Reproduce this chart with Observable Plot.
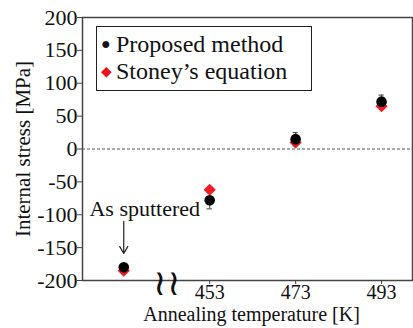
<!DOCTYPE html>
<html><head><meta charset="utf-8">
<script src="https://cdn.jsdelivr.net/npm/d3@7"></script>
<script src="https://cdn.jsdelivr.net/npm/@observablehq/plot@0.6"></script>
<style>
body{margin:0;background:#fff;}
#wrap{position:relative;width:413px;height:328px;font-family:'Liberation Serif';}
#legend{position:absolute;left:96px;top:26px;width:216px;height:65px;border:1.5px solid #222;background:#fff;box-sizing:border-box;font-family:'Liberation Serif';font-size:24px;line-height:27px;padding:3px 0 0 4px;color:#111;white-space:nowrap;}
#legend span.m{display:inline-block;width:15px;vertical-align:3px;}
</style></head>
<body><div id="wrap"><div id="chart"></div>
<div id="legend"><div><span class="m" style="font-size:16px;">●</span>Proposed method</div><div><span class="m" style="color:#e8141c;font-size:14px;">◆</span>Stoney’s equation</div></div>
</div>
<script>
const temps = [433, 453, 473, 493];           // 433 = "As sputtered" position
const proposed = [-180, -78, 15, 72];
const proposedErr = [5, 13, 10, 10];
const stoney = [-185, -62, 10, 65];
const xTicks = [453, 473, 493];
const yTicks = [-200, -150, -100, -50, 0, 50, 100, 150, 200];

const P = temps.map((t,i)=>({x:t, y:proposed[i], lo:proposed[i]-proposedErr[i], hi:proposed[i]+proposedErr[i]}));
const S = temps.map((t,i)=>({x:t, y:stoney[i]}));
const F = "Liberation Serif";

const plot = Plot.plot({
  width: 413, height: 328,
  marginLeft: 82, marginRight: 1, marginTop: 17, marginBottom: 48,
  style: {fontFamily: F, fontSize: "21px", color: "#111", background: "transparent"},
  x: {domain: [423.4, 500.2], label: null},
  y: {domain: [-200, 200], label: null},
  marks: [
    Plot.frame({stroke: "#444", strokeWidth: 1.5}),
    Plot.ruleY([0], {stroke: "#555", strokeDasharray: "3,2", strokeWidth: 1}),
    Plot.axisX({ticks: xTicks, tickFormat: d=>String(d), tickSize: 4, tickPadding: 0, fontSize: 20, stroke:"#444", fontFamily: F}),
    Plot.axisY({ticks: yTicks, tickFormat: d=>String(d), tickSize: 5, tickPadding: 0, fontSize: 22, stroke:"#444", fontFamily: F}),
    Plot.text(["≀≀"], {x: 443, y: -200, dy: 3, fontSize: 36, text: d=>d, fill: "#111", fontFamily: "DejaVu Sans"}),
    Plot.ruleX(P, {x: "x", y1: "lo", y2: "hi", stroke: "#555", strokeWidth: 1.2}),
    Plot.ruleY(P, {y: "hi", x1: d=>d.x-0.6, x2: d=>d.x+0.6, stroke: "#555", strokeWidth: 1.2}),
    Plot.ruleY(P, {y: "lo", x1: d=>d.x-0.6, x2: d=>d.x+0.6, stroke: "#555", strokeWidth: 1.2}),
    Plot.dot(S, {x: "x", y: "y", symbol: "diamond2", r: 5.5, fill: "#ee1c25", stroke: "none"}),
    Plot.dot(P, {x: "x", y: "y", r: 5.3, fill: "#000", stroke: "none"}),
    Plot.text(["As sputtered"], {x: 433, y: -100, dx: 21, dy: -6, text: d=>d, fontSize: 22, fill: "#111", fontFamily: F}),
    Plot.arrow([{x:433}], {x1: "x", x2: "x", y1: -110, y2: -159, stroke: "#222", strokeWidth: 1.2, headLength: 10}),
    Plot.text(["Annealing temperature [K]"], {frameAnchor: "bottom", dy: 40, fontSize: 20, text: d=>d, fill:"#111", dx: 4, fontFamily: F}),
    Plot.text(["Internal stress [MPa]"], {frameAnchor: "left", textAnchor: "middle", dx: -59, rotate: -90, fontSize: 21, text: d=>d, fill:"#111", fontFamily: F})
  ]
});
plot.querySelectorAll("text").forEach(t=>{ if (!t.getAttribute("font-family")) t.setAttribute("font-family", F); });
document.getElementById("chart").appendChild(plot);
</script></body></html>
